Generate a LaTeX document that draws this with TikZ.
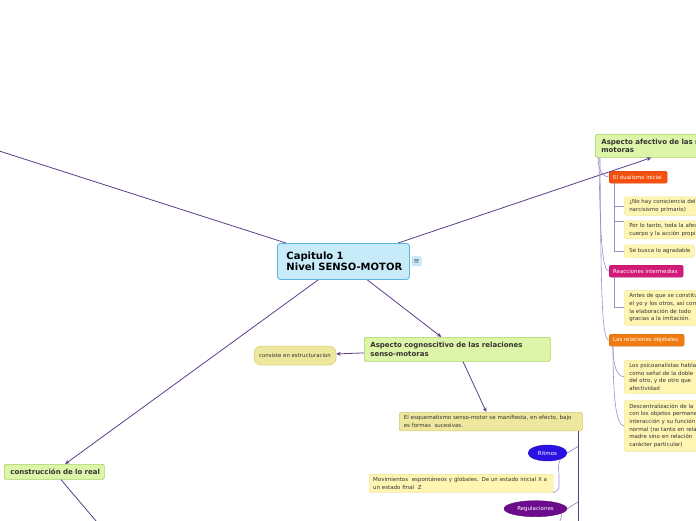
\documentclass[tikz,border=0pt]{standalone}
\usepackage{fontspec}
\setmainfont{DejaVu Sans}
\usetikzlibrary{shapes.geometric,arrows.meta,calc}
\definecolor{capf}{HTML}{C8EBFA}
\definecolor{capd}{HTML}{5DB5E0}
\definecolor{greenf}{HTML}{DDF5A8}
\definecolor{greend}{HTML}{A8D05E}
\definecolor{khakif}{HTML}{EEE79E}
\definecolor{khakid}{HTML}{D6CB72}
\definecolor{notef}{HTML}{FFF5B2}
\definecolor{noted}{HTML}{F3E7A3}
\definecolor{dualc}{HTML}{F5500E}
\definecolor{reacc}{HTML}{D21A78}
\definecolor{relc}{HTML}{F07B10}
\definecolor{ritc}{HTML}{2B12E3}
\definecolor{regc}{HTML}{6C0B8B}
\definecolor{linkc}{HTML}{5F3C89}
\definecolor{lavc}{HTML}{A08AC9}
\definecolor{txtc}{HTML}{333333}
\newcommand{\nbr}[1]{\mbox{#1}}
\tikzset{
  link/.style={draw=linkc, line width=0.8pt},
  arr/.style={link, -{Stealth[length=4.5pt,width=4pt]}},
  sub/.style={draw=lavc, line width=0.6pt},
  bx/.style={anchor=north west, align=left, rounded corners=2pt, inner ysep=0pt, text=txtc, font=\fontsize{5.5}{7.6}\selectfont},
  greenbx/.style={bx, fill=greenf, draw=greend, line width=0.7pt, font=\fontsize{7}{8.4}\selectfont\bfseries},
  notebx/.style={bx, fill=notef, draw=noted, line width=0.5pt, inner xsep=5pt},
  tagbx/.style={bx, text=white, inner xsep=4.5pt, minimum height=12pt, line width=0.4pt, font=\fontsize{5.4}{6}\selectfont},
  ellbx/.style={ellipse, inner sep=0pt, text=white, minimum height=16pt, font=\fontsize{5.5}{6}\selectfont}
}
\begin{document}
\begin{tikzpicture}[x=1pt,y=-1pt]
\useasboundingbox (0,0) rectangle (696,520);
\clip (0,0) rectangle (696,520);

% central node
\node[bx, fill=capf, draw=capd, line width=0.9pt, rounded corners=3pt, text width=114pt, inner xsep=9pt, minimum height=36pt, text=black, font=\fontsize{10}{11.6}\selectfont\bfseries] (cap) at (277,243) {\nbr{Capitulo 1}\\\nbr{Nivel SENSO-MOTOR}};
\node[anchor=north west, fill=capf, draw=capf!80!blue, line width=0.3pt, rounded corners=1pt, minimum width=9pt, minimum height=9pt, inner sep=0pt, text=black!70, font=\fontsize{7}{7}\selectfont] (ico) at (412,256.5) {≡};

% affective branch
\node[greenbx, text width=170pt, inner xsep=6pt, minimum height=23pt] (afe) at (595,134) {\nbr{Aspecto afectivo de las relaciones senso-}\\motoras};
\node[tagbx, fill=dualc, draw=dualc!85!black, text width=50pt, inner xsep=4pt] (dual) at (609,171) {\nbr{El dualismo inicial}};
\node[notebx, text width=100pt, minimum height=18.5pt] (n1) at (624,196.5) {\nbr{¿No hay consciencia del}\\\nbr{narcisismo primario)}};
\node[notebx, text width=100pt, minimum height=18pt] (n2) at (624,220.5) {\nbr{Por lo tanto, toda la afectividad}\\\nbr{cuerpo y la acción propia}};
\node[notebx, text width=60pt, minimum height=12.5pt] (n3) at (624,244.5) {\nbr{Se busca lo agradable}};
\node[tagbx, fill=reacc, draw=reacc!85!black, text width=66pt, inner xsep=4pt] (reac) at (609,265) {\nbr{Reacciones intermedias}};
\node[notebx, text width=100pt, minimum height=35pt] (n4) at (624,290) {\nbr{Antes de que se constituya}\\\nbr{el yo y los otros, así como}\\\nbr{la elaboración de todo}\\\nbr{gracias a la imitación.}};
\node[tagbx, fill=relc, draw=relc!85!black, text width=67pt, inner xsep=4pt] (rel) at (609,334) {\nbr{Las relaciones objetales}};
\node[notebx, text width=100pt, minimum height=33pt] (n5) at (624,360) {\nbr{Los psicoanalistas hablan}\\\nbr{como señal de la doble}\\\nbr{del otro, y de otro que}\\afectividad};
\node[notebx, text width=100pt, minimum height=51pt] (n6) at (624,400) {\nbr{Descentralización de la}\\\nbr{con los objetos permanentes}\\\nbr{interacción y su función}\\\nbr{normal (no tanto en relación}\\\nbr{madre sino en relación}\\\nbr{carácter particular)}};

% cognitive branch
\node[greenbx, text width=174pt, inner xsep=6pt, minimum height=24pt] (cog) at (364,337) {\nbr{Aspecto cognoscitivo de las relaciones}\\senso-motoras};
\node[fill=khakif, draw=khakid, line width=0.5pt, rounded corners=7pt, minimum width=82pt, minimum height=19pt, inner sep=0pt, text=txtc, font=\fontsize{5.4}{6}\selectfont] (cons) at (295,355.5) {consiste en estructuracion};
\node[bx, fill=khakif, draw=khakid, line width=0.6pt, text width=174pt, inner xsep=4.5pt, minimum height=18.5pt] (esq) at (399,412) {\nbr{El esquematismo senso-motor se manifiesta, en efecto, bajo}\\\nbr{es formas\ \ sucesivas.}};
\node[ellbx, fill=ritc, draw=ritc!80!black, minimum width=39pt] (rit) at (547.5,453) {Ritmos};
\node[bx, fill=notef, draw=notef!90!black, line width=0.3pt, text width=176pt, inner xsep=4pt, minimum height=18.5pt, rounded corners=1pt] (mov) at (369,474) {\nbr{Movimientos\ \ espontáneos y globales. De un estado inicial X a}\\\nbr{un estado final\ \ Z}};
\node[ellbx, fill=regc, draw=regc!80!black, minimum width=63pt] (reg) at (535.5,508.7) {Regulaciones};

% construction branch
\node[greenbx, text width=88pt, inner xsep=6pt, minimum height=15pt] (constr) at (4,464) {\nbr{construcción de lo real}};

% off-canvas ends
\coordinate (offTL) at (-60,132);
\coordinate (offBL) at (130,561);
\coordinate (vb) at (578,540);
\coordinate (jr) at (578,446.5);
\coordinate (jg) at (578,502);
\coordinate (offR) at (553,532);

% main connectors
\draw[link] (cap) -- (offTL);
\draw[arr] (cap) -- (afe);
\draw[arr] (cap) -- (cog);
\draw[arr] (cap) -- (constr);
\draw[link] (constr) -- (offBL);
\draw[arr] (cog) -- (cons);
\draw[arr] (cog) -- (esq);
\draw[link] (esq.south -| vb) -- (vb);
\draw[sub, draw=lavc!80!linkc] (rit.east) -- (jr);
\draw[sub, draw=lavc!80!linkc] (reg.east) -- (jg);
\draw[sub] (rit.-25) .. controls (557,466) and (559,468) .. (559,476) -- (559,486) .. controls (559,490) and (556,492) .. (mov.south east);
\draw[sub] (reg.-10) .. controls (561,520) .. (offR);

% affective sub-connectors
\draw[sub] ($(afe.south west)+(3,0)$) .. controls (598,170) and (603,177) .. (dual.west);
\draw[sub] ($(afe.south west)+(4,0)$) .. controls (600,235) and (602,271) .. (reac.west);
\draw[sub] ($(afe.south west)+(5,0)$) .. controls (601,300) and (602,340) .. (rel.west);
\draw[sub] ($(dual.south west)+(5,0)$) |- (n1.west);
\draw[sub] ($(dual.south west)+(5,0)$) |- ($(n2.north west)+(0,1)$);
\draw[sub] ($(dual.south west)+(5,0)$) |- (n3.west);
\draw[sub] ($(reac.south west)+(5,0)$) |- (n4.west);
\draw[sub] ($(rel.south west)+(4,0)$) .. controls (613,366) and (617,376.5) .. (n5.west);
\draw[sub] ($(rel.south west)+(4,0)$) .. controls (613,405) and (617,425.5) .. (n6.west);
\end{tikzpicture}
\end{document}
